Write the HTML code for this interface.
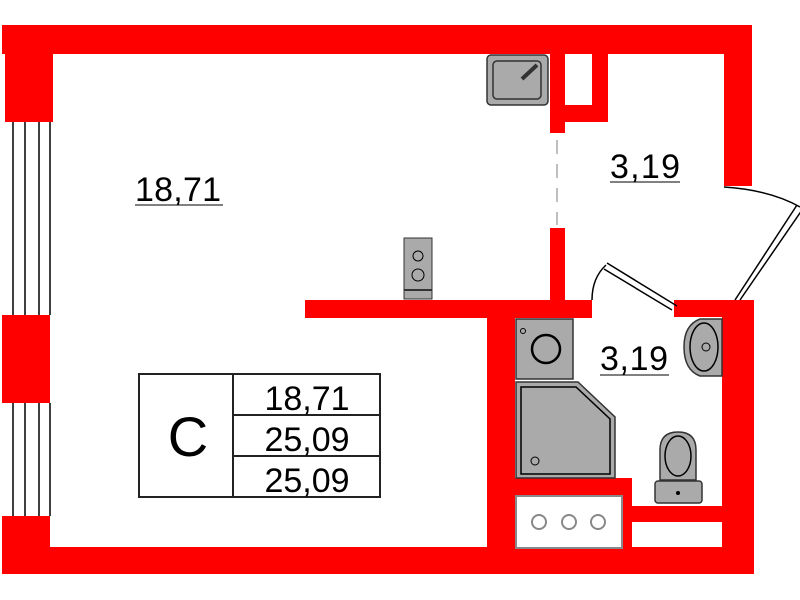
<!DOCTYPE html>
<html><head><meta charset="utf-8"><style>body{margin:0;background:#fff}svg{display:block}</style></head><body>
<svg width="800" height="600" xmlns="http://www.w3.org/2000/svg" font-family="Liberation Sans, sans-serif">
<g fill="#ff0000">
<rect x="2" y="25" width="750" height="29"/>
<rect x="5" y="25" width="48" height="97"/>
<rect x="2" y="315" width="48" height="88"/>
<rect x="2" y="516" width="48" height="58"/>
<rect x="2" y="547" width="752" height="27"/>
<rect x="487" y="300" width="28" height="274"/>
<rect x="305" y="300" width="287" height="18"/>
<rect x="674" y="300" width="80" height="17"/>
<rect x="722" y="300" width="32" height="274"/>
<rect x="724" y="25" width="28" height="161"/>
<rect x="550" y="25" width="15" height="108"/>
<rect x="550" y="25" width="58" height="97"/>
<rect x="550" y="228" width="15" height="72"/>
<rect x="515" y="478" width="117" height="70"/>
<rect x="632" y="506" width="90" height="16"/>
</g>
<rect x="565" y="54" width="27" height="51" fill="#fff"/>
<rect x="632" y="522" width="90" height="25" fill="#fff"/>
<g stroke="#000" stroke-width="1.5">
<line x1="13" y1="122" x2="13" y2="315"/><line x1="25" y1="122" x2="25" y2="315"/><line x1="39" y1="122" x2="39" y2="315"/><line x1="50" y1="122" x2="50" y2="315"/>
<line x1="13" y1="403" x2="13" y2="516"/><line x1="25" y1="403" x2="25" y2="516"/><line x1="39" y1="403" x2="39" y2="516"/><line x1="50" y1="403" x2="50" y2="516"/>
</g>
<line x1="557" y1="140" x2="557" y2="225" stroke="#aaa" stroke-width="1.5" stroke-dasharray="14,10"/>
<g fill="none" stroke="#000" stroke-width="1.5">
<path d="M724 187 Q770 190 800 207"/>
<path d="M797 205 L735 300 M802 210 L740 300"/>
<path d="M606 265 Q592 278 592 300"/>
<path d="M607 263 L677 306 M604 269 L672 310"/>
</g>
<rect x="487" y="55" width="61" height="50" rx="4" fill="#aaa" stroke="#333" stroke-width="1.5"/>
<rect x="493" y="61" width="48" height="38" rx="4" fill="none" stroke="#333" stroke-width="1.5"/>
<line x1="522" y1="79" x2="537" y2="65" stroke="#333" stroke-width="4"/>
<rect x="404" y="238" width="28" height="61" fill="#aaa" stroke="#333"/>
<circle cx="418" cy="256" r="5" fill="none" stroke="#000"/><circle cx="418" cy="275" r="6" fill="none" stroke="#000"/>
<line x1="404" y1="290" x2="432" y2="290" stroke="#333" stroke-width="2"/>
<rect x="516" y="319" width="57" height="60" fill="#aaa" stroke="#333" stroke-width="1.5"/>
<circle cx="546" cy="349" r="14" fill="none" stroke="#000" stroke-width="2.5"/>
<circle cx="523" cy="331" r="2.5" fill="none" stroke="#000"/>
<path d="M516 382 H578 L615 417 V478 H516 Z" fill="#aaa" stroke="#333" stroke-width="1.5"/>
<path d="M521 387 H576 L610 419 V474 H521 Z" fill="none" stroke="#000" stroke-width="1.5"/>
<circle cx="535" cy="461" r="4" fill="none" stroke="#000"/>
<path d="M722 319 H700 Q684 325 684 347 Q684 370 700 376 H722 Z" fill="#aaa" stroke="#333" stroke-width="1.5"/>
<ellipse cx="704" cy="347" rx="14" ry="24" fill="none" stroke="#000" stroke-width="1.5"/>
<circle cx="706" cy="347" r="4" fill="none" stroke="#000"/>
<path d="M660 480 V450 Q660 432 678 432 Q696 432 696 450 V480 Z" fill="#aaa" stroke="#333" stroke-width="1.5"/>
<ellipse cx="678" cy="456" rx="13" ry="20" fill="none" stroke="#000" stroke-width="1.5"/>
<rect x="655" y="481" width="47" height="22" rx="3" fill="#aaa" stroke="#333" stroke-width="1.5"/>
<circle cx="678" cy="493" r="2" fill="#000"/>
<rect x="516" y="496" width="106" height="52" fill="#fff" stroke="#888" stroke-width="2"/>
<g fill="none" stroke="#888" stroke-width="2"><circle cx="539" cy="522" r="7"/><circle cx="569" cy="522" r="7"/><circle cx="598" cy="522" r="7"/></g>
<g font-size="34" fill="#000">
<text x="135" y="201" textLength="86">18,71</text><line x1="135" y1="205" x2="223" y2="205" stroke="#000"/>
<text x="610" y="178" textLength="70">3,19</text><line x1="610" y1="182" x2="680" y2="182" stroke="#000"/>
<text x="600" y="370" textLength="68">3,19</text><line x1="600" y1="375" x2="669" y2="375" stroke="#000"/>
</g>
<g fill="none" stroke="#222" stroke-width="2">
<rect x="139" y="374" width="241" height="123"/>
<line x1="233" y1="374" x2="233" y2="497"/><line x1="233" y1="415" x2="380" y2="415"/><line x1="233" y1="456" x2="380" y2="456"/>
</g>
<g font-size="34" fill="#000" text-anchor="middle">
<text x="307" y="410">18,71</text><text x="307" y="451">25,09</text><text x="307" y="492">25,09</text>
<text x="188" y="456" font-size="56">C</text>
</g>
</svg>
</body></html>
